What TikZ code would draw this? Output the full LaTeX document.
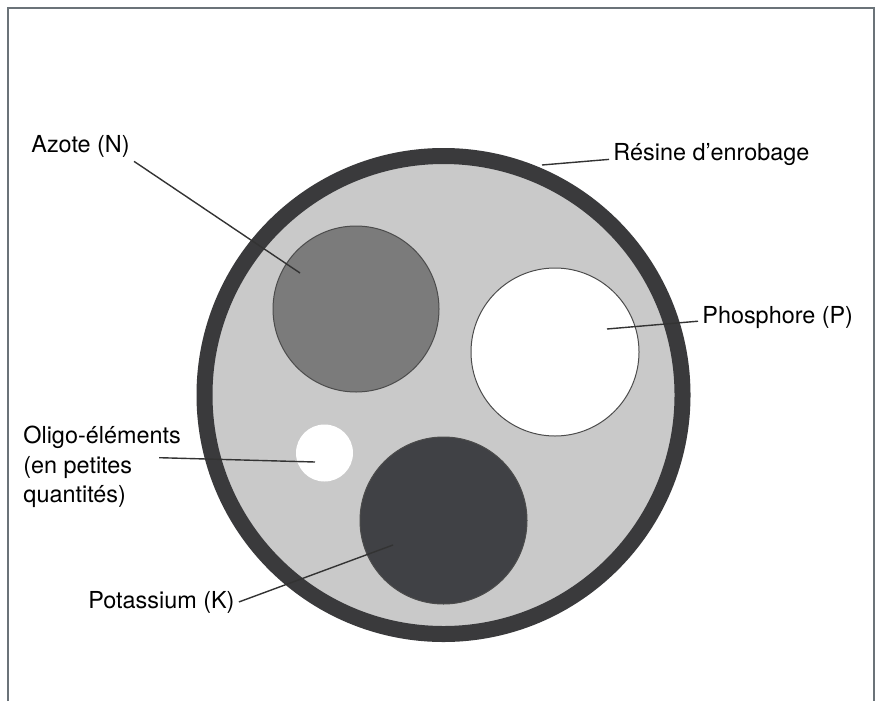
\documentclass[tikz,border=0pt]{standalone}
\usepackage{fontspec}
\setmainfont{TeX Gyre Heros}
\usepackage{xcolor}
\usetikzlibrary{positioning}
\definecolor{cadre}{HTML}{6B7379}
\definecolor{enrobage}{HTML}{3A3A3C}
\definecolor{fond}{HTML}{C9C9C9}
\definecolor{azote}{HTML}{7B7B7B}
\definecolor{potasse}{HTML}{404145}
\definecolor{trait}{HTML}{333333}

\begin{document}
\begin{tikzpicture}[x=0.5pt, y=-0.5pt,
    etiquette/.style={inner sep=2pt, font=\fontsize{11.7}{14.75}\selectfont, text=black},
    renvoi/.style={draw=trait, line width=0.7pt},
    granule/.style={draw=black!70, line width=0.5pt}]
    \useasboundingbox (0,0) rectangle (876,701);

    % Cadre
    \draw[cadre, line width=1pt] (8,701) -- (8,8) -- (874,8) -- (874,701);

    % Grain et enrobage
    \coordinate (C) at (443.5,395);
    \draw[enrobage, line width=8pt, fill=fond] (C) circle (239);

    % Elements nutritifs
    \coordinate (N) at (356,309);
    \coordinate (P) at (555,352);
    \coordinate (K) at (443.5,520.5);
    \coordinate (O) at (324.5,453);
    \draw[granule, fill=azote] (N) circle (83);
    \draw[granule, fill=white] (P) circle (84);
    \draw[granule, fill=potasse] (K) circle (83.5);
    \fill[white] (O) circle (28.5);

    % Etiquettes
    \node[etiquette, anchor=base west] (azote) at (27,152) {Azote (N)};
    \node[etiquette, anchor=base west] (resine) at (609,160) {Résine d’enrobage};
    \node[etiquette, anchor=base west] (phos) at (698,323) {Phosphore (P)};
    \node[etiquette, anchor=north west, align=left] (oligo) at (19,422) {Oligo-éléments\\(en petites\\quantités)};
    \node[etiquette, anchor=base west] (potas) at (84,608) {Potassium (K)};

    % Renvois
    \coordinate (azoteFin) at (300,273);
    \coordinate (resineFin) at (542,165);
    \coordinate (phosFin) at (607,329);
    \coordinate (oligoFin) at (315,462);
    \coordinate (potasFin) at (393,545);
    \draw[renvoi] (azote.south east) -- (azoteFin);
    \draw[renvoi] (resine.183) -- (resineFin);
    \draw[renvoi] (phos.183) -- (phosFin);
    \draw[renvoi] ([shift={(-26,-9.5)}]oligo.east) -- (oligoFin);
    \draw[renvoi] (potas.east) -- (potasFin);
\end{tikzpicture}
\end{document}
